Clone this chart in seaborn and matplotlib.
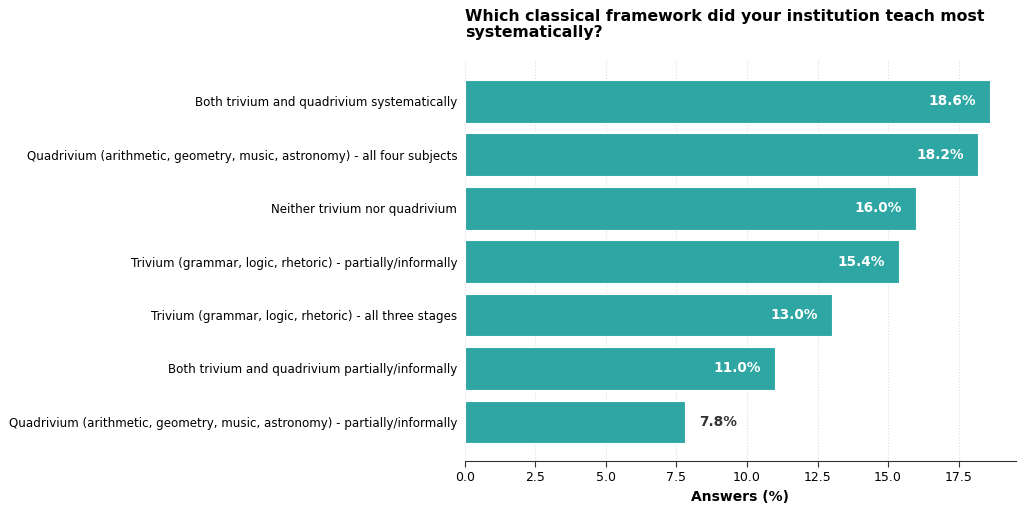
import matplotlib
matplotlib.use("Agg")
import matplotlib.pyplot as plt
import seaborn as sns
import pandas as pd

# survey answers
categories = [
    "Both trivium and quadrivium systematically",
    "Quadrivium (arithmetic, geometry, music, astronomy) - all four subjects",
    "Neither trivium nor quadrivium",
    "Trivium (grammar, logic, rhetoric) - partially/informally",
    "Trivium (grammar, logic, rhetoric) - all three stages",
    "Both trivium and quadrivium partially/informally",
    "Quadrivium (arithmetic, geometry, music, astronomy) - partially/informally",
]
percent = [18.6, 18.2, 16.0, 15.4, 13.0, 11.0, 7.8]

df = pd.DataFrame({"category": categories, "percent": percent})

sns.set_style("white")
plt.rcParams["font.family"] = ["DejaVu Sans"]
plt.rcParams["text.color"] = "black"

fig = plt.figure(figsize=(10.24, 5.07), dpi=100)
ax = fig.add_axes([0.454, 0.091, 0.538, 0.79])

sns.barplot(data=df, x="percent", y="category", color="#2ea6a3", saturation=1,
            width=0.8, edgecolor="white", linewidth=0.8, ax=ax)

xmax = max(percent)
ax.set_xlim(0, xmax * 1.05)
ax.set_ylim(len(percent) - 1 + 0.73, -0.77)
ax.grid(axis="x", linestyle=":", color="#dddddd", linewidth=0.8)
ax.set_axisbelow(True)

for i, v in enumerate(percent):
    if v > 10:
        ax.text(v - 0.5, i, f"{v:.1f}%", ha="right", va="center",
                color="white", fontsize=9.8, fontweight="bold")
    else:
        ax.text(v + 0.5, i, f"{v:.1f}%", ha="left", va="center",
                color="#333333", fontsize=9.8, fontweight="bold")

sns.despine(ax=ax, left=True)
ax.spines["bottom"].set_color("#333333")
ax.tick_params(axis="x", bottom=True, length=4, color="#333333", labelsize=9,
               labelcolor="black")
ax.tick_params(axis="y", left=False, labelsize=8.55, labelcolor="black", pad=2)
ax.set_ylabel("")
ax.set_xlabel("Answers (%)", fontsize=10, fontweight="bold", color="black")
ax.set_title("Which classical framework did your institution teach most\nsystematically?",
             loc="left", fontsize=11.3, fontweight="bold", color="black", pad=17,
             linespacing=1.05)

fig.savefig("out.png", dpi=100)
